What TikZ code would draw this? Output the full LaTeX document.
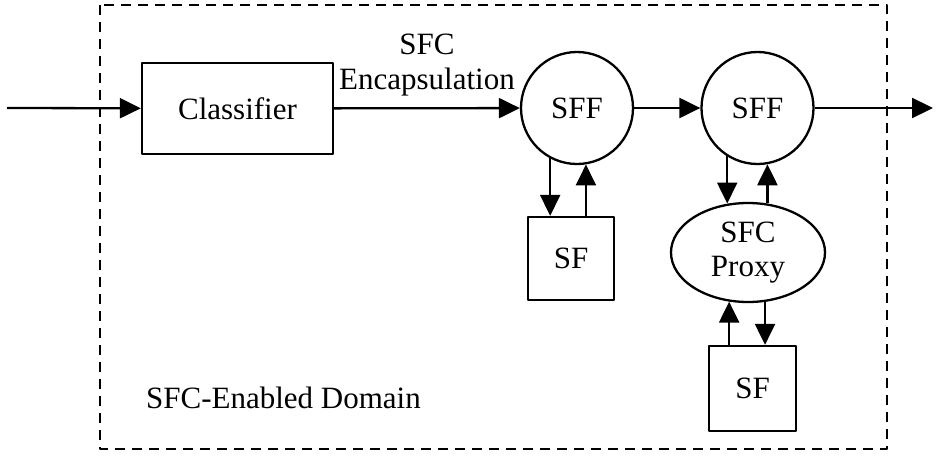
\documentclass[tikz,border=0pt]{standalone}
\usepackage{fontspec}
\setmainfont{Liberation Serif}
\usetikzlibrary{arrows.meta}
\usetikzlibrary{shapes.geometric}

\begin{document}
\begin{tikzpicture}[line join=round, >={Triangle[length=21pt,width=20pt]}, x=1pt, y=-1pt,
  line width=2.3pt, font=\fontsize{31}{35}\selectfont,
  box/.style={draw, rectangle, inner sep=0pt},
  fwd/.style={draw, circle, minimum size=112pt, inner sep=0pt}]
  \useasboundingbox (0,0) rectangle (945,458);
  \draw [dash pattern=on 10pt off 7pt, line width=2pt] (100,5) rectangle (887,449);
  \node[box, minimum width=191pt, minimum height=91pt] (cls) at (237.5,108.5) {Classifier};
  \node[fwd] (sff1) at (577,108) {SFF};
  \node[fwd] (sff2) at (757.5,108) {SFF};
  \node[box, minimum width=86pt, minimum height=83pt] (sf1) at (571,258.5) {SF};
  \node[draw, ellipse, minimum width=154pt, minimum height=99pt, inner sep=0pt, align=center]
    (proxy) at (748,252.5) {SFC\\[-1pt]Proxy};
  \node[box, minimum width=87pt, minimum height=85pt] (sf2) at (752.5,388.5) {SF};
  \node[anchor=west, inner sep=0pt] (dom) at (145,398) {SFC-Enabled Domain};
  \coordinate (in) at (7,108);
  \coordinate (out) at (933,108);
  % main chain
  \draw [->] (in) -- (cls);
  \draw [->] (cls) -- node[above=11pt, align=center, inner sep=0pt] (enc) {SFC\\Encapsulation} (sff1);
  \draw [->] (sff1) -- (sff2);
  \draw [->] (sff2) -- (out);
  % down to the functions and back
  \draw [->] (sff1.-118) -- (sff1.-118 |- sf1.north);
  \draw [<-] (sff1.-81) -- (sff1.-81 |- sf1.north);
  \draw [->] (sff2.-122) -- (sff2.-122 |- proxy.112);
  \draw [<-] (sff2.-80) -- (sff2.-80 |- proxy.69);
  \draw [<-] (proxy.-111) -- (proxy.-111 |- sf2.north);
  \draw [->] (proxy.-71) -- (proxy.-71 |- sf2.north);
\end{tikzpicture}
\end{document}
